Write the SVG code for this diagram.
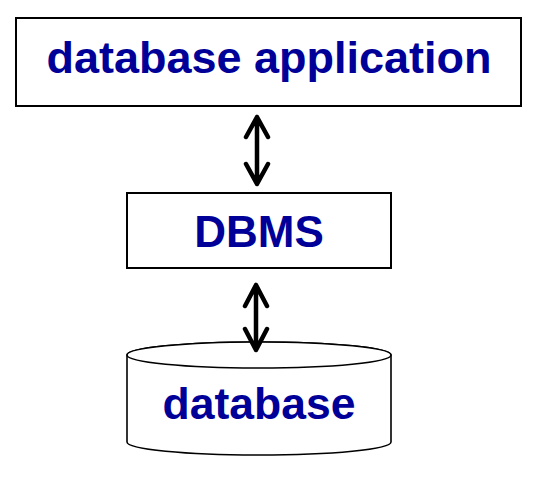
<svg xmlns="http://www.w3.org/2000/svg" width="541" height="482" viewBox="0 0 541 482">
<style>
.box{fill:#fff;stroke:#000;stroke-width:2}
.cyl{fill:#fff;stroke:#000;stroke-width:1.6}
.lbl{font-family:"Liberation Sans",Arial,sans-serif;font-weight:bold;font-size:44px;fill:#000099;text-anchor:middle}
.arr{fill:none;stroke:#000;stroke-width:4.5;stroke-linecap:round;stroke-linejoin:round}
</style>
<rect width="541" height="482" fill="#fff"/>
<g id="app">
<rect class="box" x="16" y="18" width="505" height="88"/>
<text class="lbl" x="269" y="73" style="font-size:45px">database application</text>
</g>
<g id="dbms">
<rect class="box" x="127" y="193" width="264" height="75"/>
<text class="lbl" x="259" y="247">DBMS</text>
</g>
<g id="database">
<path class="cyl" d="M127,355 L127,442 A132,13 0 0 0 391,442 L391,355 A132,13 0 0 0 127,355 Z"/>
<ellipse class="cyl" cx="259" cy="355" rx="132" ry="13"/>
<text class="lbl" x="259" y="419" style="font-size:44.5px">database</text>
</g>
<g id="connectors">
<path class="arr" d="M257,117 L257,184 M246,137 L257,117 L268,137 M246,164 L257,184 L268,164"/>
<path class="arr" d="M256,285 L256,350 M245,306 L256,285 L267,306 M245,329 L256,350 L267,329"/>
</g>
</svg>
